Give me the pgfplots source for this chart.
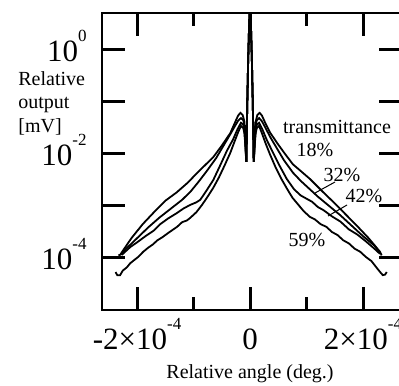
\documentclass[border=0pt]{standalone}
\usepackage{pgfplots}
\pgfplotsset{compat=1.18}
\usepackage{pgfplotstable}
\usepackage{fontspec}
\setmainfont{Liberation Serif}
\newcommand{\tl}[2]{#1\raisebox{10pt}{\fontsize{8.5}{8.5}\selectfont #2}}

% x in units of 1e-4 deg, ly = log10(relative output)
\pgfplotstableread{
x ly
-2.33 -3.95
-2.30 -3.94
-2.20 -3.78
-2.10 -3.62
-1.90 -3.35
-1.70 -3.12
-1.50 -2.90
-1.30 -2.74
-1.10 -2.55
-0.95 -2.38
-0.80 -2.22
-0.65 -2.06
-0.50 -1.84
-0.35 -1.60
-0.26 -1.38
-0.21 -1.26
-0.17 -1.21
-0.13 -1.25
-0.10 -1.38
-0.085 -1.62
-0.072 -2.00
-0.065 -2.15
-0.058 -1.60
-0.048 -1.00
-0.035 -0.30
-0.018 0.40
0.000 0.90
0.018 0.40
0.035 -0.30
0.048 -1.00
0.058 -1.60
0.065 -2.15
0.072 -2.00
0.085 -1.62
0.10 -1.38
0.13 -1.25
0.17 -1.21
0.21 -1.26
0.26 -1.38
0.35 -1.58
0.48 -1.79
0.62 -2.00
0.76 -2.20
0.90 -2.33
1.06 -2.48
1.30 -2.74
1.50 -2.95
1.70 -3.17
1.90 -3.39
2.10 -3.62
2.30 -3.88
2.33 -3.95
}\tA

\pgfplotstableread{
x ly
-2.28 -3.94
-2.20 -3.83
-2.00 -3.62
-1.80 -3.41
-1.60 -3.22
-1.40 -3.05
-1.20 -2.88
-1.05 -2.72
-0.90 -2.52
-0.76 -2.32
-0.60 -2.08
-0.48 -1.86
-0.36 -1.64
-0.26 -1.45
-0.21 -1.36
-0.16 -1.31
-0.12 -1.35
-0.10 -1.45
-0.085 -1.68
-0.072 -2.00
-0.065 -2.15
-0.058 -1.60
-0.048 -1.00
-0.035 -0.30
-0.018 0.40
0.000 0.90
0.018 0.40
0.035 -0.30
0.048 -1.00
0.058 -1.60
0.065 -2.15
0.072 -2.00
0.085 -1.68
0.10 -1.45
0.12 -1.35
0.16 -1.31
0.21 -1.37
0.26 -1.47
0.36 -1.68
0.48 -1.90
0.60 -2.12
0.76 -2.36
0.90 -2.52
1.06 -2.68
1.20 -2.82
1.40 -3.00
1.60 -3.18
1.80 -3.38
2.00 -3.58
2.20 -3.76
2.30 -3.90
}\tB

\pgfplotstableread{
x ly
-2.27 -3.94
-2.12 -3.79
-2.00 -3.70
-1.85 -3.58
-1.70 -3.47
-1.59 -3.35
-1.45 -3.24
-1.30 -3.14
-1.18 -3.05
-1.06 -2.98
-0.95 -2.93
-0.88 -2.88
-0.78 -2.72
-0.65 -2.50
-0.52 -2.20
-0.41 -1.94
-0.30 -1.72
-0.22 -1.52
-0.16 -1.40
-0.12 -1.44
-0.10 -1.55
-0.085 -1.75
-0.072 -2.02
-0.065 -2.15
-0.058 -1.60
-0.048 -1.00
-0.035 -0.30
-0.018 0.40
0.000 0.90
0.018 0.40
0.035 -0.30
0.048 -1.00
0.058 -1.60
0.065 -2.15
0.072 -2.02
0.085 -1.75
0.10 -1.55
0.12 -1.44
0.16 -1.40
0.22 -1.53
0.30 -1.74
0.41 -1.98
0.52 -2.22
0.65 -2.48
0.78 -2.68
0.90 -2.80
1.00 -2.86
1.10 -2.92
1.20 -3.02
1.30 -3.08
1.45 -3.20
1.60 -3.30
1.75 -3.45
1.90 -3.55
2.05 -3.68
2.20 -3.82
2.30 -3.92
}\tC

\pgfplotstableread{
x ly
-2.38 -4.27
-2.35 -4.33
-2.30 -4.33
-2.25 -4.24
-2.18 -4.18
-2.12 -4.10
-2.05 -4.04
-1.98 -3.98
-1.89 -3.88
-1.80 -3.80
-1.72 -3.74
-1.64 -3.66
-1.55 -3.60
-1.45 -3.52
-1.37 -3.46
-1.29 -3.40
-1.20 -3.31
-1.12 -3.28
-1.06 -3.23
-0.95 -3.12
-0.85 -2.98
-0.75 -2.82
-0.65 -2.65
-0.55 -2.45
-0.45 -2.22
-0.35 -1.98
-0.27 -1.75
-0.21 -1.58
-0.16 -1.46
-0.12 -1.50
-0.10 -1.60
-0.085 -1.80
-0.072 -2.05
-0.065 -2.15
-0.058 -1.60
-0.048 -1.00
-0.035 -0.30
-0.018 0.40
0.000 0.90
0.018 0.40
0.035 -0.30
0.048 -1.00
0.058 -1.60
0.065 -2.15
0.072 -2.05
0.085 -1.80
0.10 -1.60
0.12 -1.50
0.16 -1.46
0.21 -1.60
0.27 -1.78
0.35 -2.00
0.45 -2.25
0.55 -2.47
0.65 -2.66
0.75 -2.84
0.85 -2.97
0.95 -3.10
1.06 -3.21
1.15 -3.26
1.25 -3.35
1.35 -3.40
1.45 -3.50
1.55 -3.56
1.65 -3.66
1.75 -3.72
1.85 -3.82
1.95 -3.88
2.05 -3.98
2.15 -4.06
2.25 -4.20
2.31 -4.28
2.35 -4.33
2.39 -4.32
2.42 -4.27
}\tD

\begin{document}
\begin{tikzpicture}
\begin{axis}[
  name=ax,
  scale only axis,
  width=150pt, height=148.5pt,
  xmin=-2.62, xmax=2.69,
  ymode=log,
  ymin=1e-5, ymax=5.13,
  axis line style={line width=0.9pt},
  tick align=inside,
  major tick length=11.5pt,
  minor tick length=6.5pt,
  tick style={line width=1.5pt, black},
  xtick={-2,0,2},
  minor xtick={-1,1},
  xticklabels={\tl{-2×10}{-4}, 0, \tl{2×10}{-4}},
  ytick={1e-4,1e-3,1e-2,1e-1,1},
  yticklabels={\tl{10}{-4}, , \tl{10}{-2}, , \tl{10}{0}},
  yminorticks=false,
  xticklabel style={font=\fontsize{15.5}{15.5}\selectfont, anchor=base, inner sep=0pt, yshift=-19.5pt},
  yticklabel style={font=\fontsize{15.5}{15.5}\selectfont, anchor=base east, inner sep=0pt, xshift=-7.5pt, yshift=-6pt},
]
\addplot[black, line width=0.9pt] table[x=x, y expr=10^(\thisrow{ly})] {\tA};
\addplot[black, line width=0.9pt] table[x=x, y expr=10^(\thisrow{ly})] {\tB};
\addplot[black, line width=0.9pt] table[x=x, y expr=10^(\thisrow{ly})] {\tC};
\addplot[black, line width=0.9pt] table[x=x, y expr=10^(\thisrow{ly})] {\tD};
\end{axis}
\begin{scope}[shift={(ax.north west)}, x=0.5pt, y=-0.5pt, font=\fontsize{10}{11.75}\selectfont]
  \node[anchor=west, align=left, inner sep=0pt] at (18-102, 103-13) {Relative\\output\\{[mV]}};
  \node[inner sep=0pt] at (250-102, 374-13) {Relative angle (deg.)};
  \node[inner sep=0pt] at (337-102, 127-13) {transmittance};
  \node[inner sep=0pt] at (315-102, 150-13) {18\%};
  \node[inner sep=0pt] at (342-102, 175-13) {32\%};
  \node[inner sep=0pt] at (364-102, 196-13) {42\%};
  \node[inner sep=0pt] at (307-102, 240-13) {59\%};
  \draw[line width=0.5pt] (335-102, 182-13) -- (315-102, 193-13);
  \draw[line width=0.5pt] (347-102, 205-13) -- (328-102, 216-13);
\end{scope}
\pgfresetboundingbox
\path[use as bounding box] ([shift={(-51pt,6.5pt)}]ax.north west) rectangle ([shift={(148.5pt,-186pt)}]ax.north west);
\end{tikzpicture}
\end{document}
